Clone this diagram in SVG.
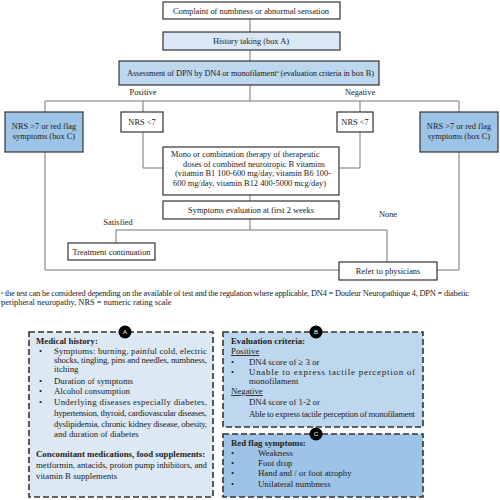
<svg xmlns="http://www.w3.org/2000/svg" width="500" height="500" viewBox="0 0 500 500">
<style>
text{font-family:"Liberation Serif","Times New Roman",serif;fill:#222;font-size:8.4px}
.box{stroke:#333;stroke-width:1.2}
.w{fill:#fff}.l{fill:#dae8f6}.m{fill:#bdd7ee}.d{fill:#9dc3e6}
.c{text-anchor:middle}
.conn line,.conn polyline{stroke:#777;stroke-width:1;fill:none}
.dash{stroke:#333;stroke-width:1.6;stroke-dasharray:6 3}
.b{font-weight:bold}
.t{font-size:8.8px}
.u{text-decoration:underline}
.circ{fill:#000}
.ct{fill:#fff;font-family:"Liberation Sans",Arial,sans-serif;font-size:6px;text-anchor:middle}
</style>
<rect width="500" height="500" fill="#fff"/>
<g class="conn">
<line x1="250" y1="19" x2="250" y2="32"/>
<line x1="250" y1="50" x2="250" y2="61"/>
<line x1="250" y1="85" x2="250" y2="101"/>
<line x1="45" y1="101" x2="459" y2="101"/>
<line x1="45" y1="101" x2="45" y2="112"/>
<line x1="143" y1="101" x2="143" y2="112"/>
<line x1="360" y1="101" x2="360" y2="112"/>
<line x1="459" y1="101" x2="459" y2="112"/>
<polyline points="143,132 143,168 163,168"/>
<polyline points="360,132 360,168 339,168"/>
<line x1="250" y1="195" x2="250" y2="201"/>
<line x1="250" y1="219" x2="250" y2="230"/>
<line x1="116" y1="230" x2="387" y2="230"/>
<line x1="116" y1="230" x2="116" y2="243"/>
<line x1="387" y1="230" x2="387" y2="262"/>
<polyline points="45,152 45,270 339,270"/>
<polyline points="459,152 459,270 437,270"/>
</g>
<g id="complaint"><rect class="box w" x="163" y="2" width="177" height="17"/><text class="c" x="251" y="13.5">Complaint of numbness or abnormal sensation</text></g>
<g id="history"><rect class="box l" x="163" y="32" width="177" height="18"/><text class="c" x="251" y="44">History taking (box A)</text></g>
<g id="assessment"><rect class="box m" x="119" y="61" width="260" height="24"/><text x="127" y="76" textLength="247" lengthAdjust="spacing">Assessment of DPN by DN4 or monofilament<tspan font-size="5" dy="-3">a</tspan><tspan dy="3"> (evaluation criteria in box B)</tspan></text></g>
<g id="labels"><text class="c" x="143" y="95">Positive</text><text class="c" x="360" y="95">Negative</text><text class="c" x="118" y="225">Satisfied</text><text class="c" x="388" y="217">None</text></g>
<g id="nrs-high-left"><rect class="box d" x="5" y="112" width="78" height="40"/><text class="c" x="44" y="129">NRS &gt;7 or red flag</text><text class="c" x="44" y="139">symptoms (box C)</text></g>
<g id="nrs-low-left"><rect class="box w" x="121" y="112" width="42" height="20"/><text class="c" x="142" y="125">NRS &lt;7</text></g>
<g id="nrs-low-right"><rect class="box w" x="337" y="112" width="36" height="20"/><text class="c" x="355" y="125">NRS &lt;7</text></g>
<g id="nrs-high-right"><rect class="box d" x="420" y="112" width="78" height="40"/><text class="c" x="459" y="129">NRS &gt;7 or red flag</text><text class="c" x="459" y="139">symptoms (box C)</text></g>
<g id="therapy"><rect class="box w" x="163" y="147" width="176" height="48"/>
<text x="171" y="157">Mono or combination therapy of therapeutic</text>
<text x="183" y="167">doses of combined neurotropic B vitamins</text>
<text x="175" y="176">(vitamin B1 100-600 mg/day, vitamin B6 100-</text>
<text x="173" y="186">600 mg/day, vitamin B12 400-5000 mcg/day)</text></g>
<g id="evaluation"><rect class="box w" x="163" y="201" width="176" height="18"/><text class="c" x="251" y="213">Symptoms evaluation at first 2 weeks</text></g>
<g id="continuation"><rect class="box w" x="68" y="243" width="87" height="17"/><text class="c" x="111.5" y="254.5">Treatment continuation</text></g>
<g id="refer"><rect class="box w" x="339" y="262" width="98" height="18"/><text class="c" x="388" y="274">Refer to physicians</text></g>
<g id="footnote"><text x="1" y="296" font-size="7.5" textLength="468" lengthAdjust="spacing"><tspan font-size="5" dy="-2.5">a</tspan><tspan dy="2.5"> the test can be considered depending on the available of test and the regulation where applicable, DN4 = Douleur Neuropathique 4, DPN = diabetic</tspan></text>
<text x="1" y="304.5" font-size="7.5">peripheral neuropathy, NRS = numeric rating scale</text></g>
<g id="boxA">
<rect class="dash" x="29" y="332" width="184" height="165" fill="#dce9f5"/>
<circle class="circ" cx="125" cy="332" r="6.5"/><text class="ct" x="125" y="334.2">A</text>
<text class="t b" x="36" y="344">Medical history:</text>
<text class="t" x="39" y="354">•</text><text class="t" x="54" y="354" textLength="153" lengthAdjust="spacing">Symptoms: burning, painful cold, electric</text>
<text class="t" x="54" y="363" textLength="153" lengthAdjust="spacing">shocks, tingling, pins and needles, numbness,</text>
<text class="t" x="54" y="372">itching</text>
<text class="t" x="39" y="384">•</text><text class="t" x="54" y="384">Duration of symptoms</text>
<text class="t" x="39" y="394">•</text><text class="t" x="54" y="394">Alcohol consumption</text>
<text class="t" x="39" y="405">•</text><text class="t" x="54" y="405" textLength="153" lengthAdjust="spacing">Underlying diseases especially diabetes,</text>
<text class="t" x="54" y="416" textLength="153" lengthAdjust="spacing">hypertension, thyroid, cardiovascular diseases,</text>
<text class="t" x="54" y="427" textLength="153" lengthAdjust="spacing">dyslipidemia, chronic kidney disease, obesity,</text>
<text class="t" x="54" y="437">and duration of diabetes</text>
<text class="t b" x="36" y="457">Concomitant medications, food supplements:</text>
<text class="t" x="36" y="468" textLength="171" lengthAdjust="spacing">metformin, antacids, proton pump inhibitors, and</text>
<text class="t" x="36" y="479">vitamin B supplements</text>
</g>
<g id="boxB">
<rect class="dash" x="223" y="332" width="200" height="95" fill="#bdd7ee"/>
<circle class="circ" cx="316" cy="332" r="6.5"/><text class="ct" x="316" y="334.2">B</text>
<text class="t b" x="231" y="344">Evaluation criteria:</text>
<text class="t u" x="231" y="354">Positive</text>
<text class="t" x="231" y="365">•</text><text class="t" x="249" y="365">DN4 score of ≥ 3 or</text>
<text class="t" x="231" y="375">•</text><text class="t" x="249" y="375" textLength="166" lengthAdjust="spacing">Unable to express tactile perception of</text>
<text class="t" x="249" y="384">monofilament</text>
<text class="t u" x="231" y="394">Negative</text>
<text class="t" x="249" y="405">DN4 score of 1-2 or</text>
<text class="t" x="249" y="417" textLength="166" lengthAdjust="spacing">Able to express tactile perception of monofilament</text>
</g>
<g id="boxC">
<rect class="dash" x="223" y="434" width="200" height="63" fill="#9dc3e6"/>
<circle class="circ" cx="316" cy="434" r="6.5"/><text class="ct" x="316" y="436.2">C</text>
<text class="t b" x="231" y="446">Red flag symptoms:</text>
<text class="t" x="231" y="456">•</text><text class="t" x="258" y="456">Weakness</text>
<text class="t" x="231" y="466">•</text><text class="t" x="258" y="466">Foot drop</text>
<text class="t" x="231" y="476">•</text><text class="t" x="258" y="476">Hand and / or foot atrophy</text>
<text class="t" x="231" y="487">•</text><text class="t" x="258" y="487">Unilateral numbness</text>
</g>
</svg>
